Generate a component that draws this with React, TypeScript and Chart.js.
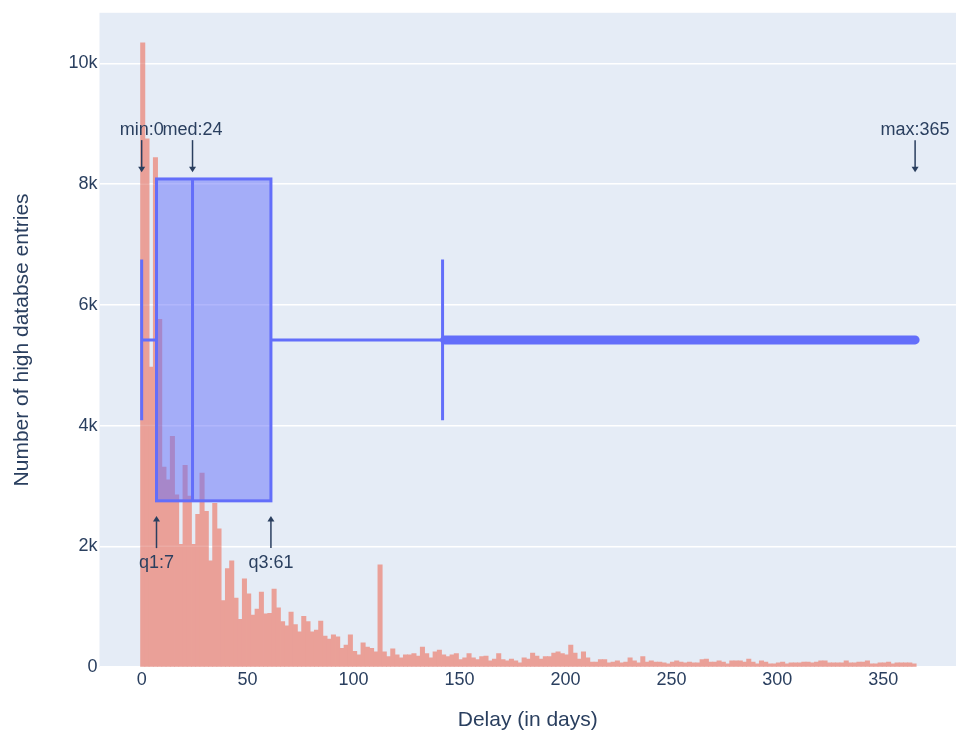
import { useEffect, useRef } from 'react';
import { Chart, registerables } from 'chart.js';

Chart.register(...registerables);

// ---------- data ----------
const BIN_START = -0.5;
const BIN_SIZE = 2;
const HIST_COUNTS = [
  10340, 8750, 4970, 8440, 5760, 3310, 3100, 3820, 2850, 2030,
  3340, 2830, 2030, 2530, 3210, 2580, 1760, 2710, 2290, 1100,
  1630, 1760, 1140, 790, 1460, 1210, 860, 960, 1240, 880,
  890, 1290, 980, 750, 680, 910, 700, 580, 840, 750,
  580, 610, 760, 510, 460, 530, 500, 310, 360, 530,
  260, 200, 400, 330, 310, 250, 1690, 250, 170, 300,
  200, 150, 200, 200, 220, 180, 330, 220, 150, 250,
  280, 200, 170, 200, 220, 120, 150, 220, 150, 120,
  170, 180, 100, 130, 220, 120, 100, 130, 100, 70,
  150, 130, 230, 180, 130, 170, 170, 230, 250, 220,
  200, 360, 230, 130, 250, 150, 80, 80, 120, 120,
  70, 80, 100, 70, 80, 150, 100, 70, 170, 80,
  100, 80, 80, 70, 50, 80, 100, 80, 70, 80,
  70, 70, 120, 130, 80, 80, 100, 80, 50, 100,
  100, 100, 80, 130, 80, 50, 100, 80, 50, 50,
  70, 80, 50, 70, 70, 70, 80, 80, 70, 80,
  100, 100, 70, 70, 70, 70, 100, 70, 70, 80,
  80, 100, 50, 50, 70, 70, 80, 50, 70, 70,
  70, 70, 50,
];

const X_TICKS = [0, 50, 100, 150, 200, 250, 300, 350];
const Y_TICKS = [0, 2000, 4000, 6000, 8000, 10000];
const X_MIN = -19.9;
const X_MAX = 384.3;
const Y_MIN = 0;
const Y_MAX = 10840;

const BOX_MIN = 0;
const BOX_Q1 = 7;
const BOX_MEDIAN = 24;
const BOX_Q3 = 61;
const BOX_UPPER_FENCE = 142;
const BOX_FIRST_OUTLIER = 143;
const BOX_MAX = 365;

const ANNOTATION_NAMES = ['min', 'med', 'max', 'q1', 'q3'];
const ANNOTATION_VALUES = [BOX_MIN, BOX_MEDIAN, BOX_MAX, BOX_Q1, BOX_Q3];
const ANNOTATION_SIDES = ['top', 'top', 'top', 'bottom', 'bottom'];
const ANNOTATION_TOP_Y = 8200;
const ANNOTATION_BOTTOM_Y = 2500;

const X_TITLE = 'Delay (in days)';
const Y_TITLE = 'Number of high databse entries';

// ---------- styles ----------
const FONT = "'Liberation Sans', Arial, sans-serif";
const TEXT_COLOR = '#2a3f5f';
const PLOT_BG = '#E5ECF6';
const BAR_COLOR = 'rgb(234,160,152)';
const GRID_THROUGH_BARS = 'rgba(255,255,255,0.12)';
const BOX_LINE = '#636EFA';
const BOX_FILL = 'rgba(99,110,250,0.5)';
const BOX_POSITION = 0.5;
const BOX_HALF_WIDTH = 0.246;
const WHISKER_HALF_WIDTH = 0.123;

const bgPlugin = {
  id: 'plotBg',
  beforeDraw(chart: any) {
    const { ctx, chartArea } = chart;
    ctx.save();
    ctx.fillStyle = PLOT_BG;
    ctx.fillRect(chartArea.left, chartArea.top, chartArea.right - chartArea.left, chartArea.bottom - chartArea.top);
    ctx.restore();
  },
};

const boxPlugin = {
  id: 'boxOverlay',
  afterDatasetsDraw(chart: any) {
    const { ctx, chartArea } = chart;
    const xs = chart.scales.x;
    const ys = chart.scales.y;
    const yb = chart.scales.yBox;
    const px = (v: number) => xs.getPixelForValue(v);
    const cy = yb.getPixelForValue(BOX_POSITION);
    const top = yb.getPixelForValue(BOX_POSITION + BOX_HALF_WIDTH);
    const bot = yb.getPixelForValue(BOX_POSITION - BOX_HALF_WIDTH);
    const capTop = yb.getPixelForValue(BOX_POSITION + WHISKER_HALF_WIDTH);
    const capBot = yb.getPixelForValue(BOX_POSITION - WHISKER_HALF_WIDTH);

    ctx.save();
    ctx.beginPath();
    ctx.rect(chartArea.left, chartArea.top, chartArea.right - chartArea.left, chartArea.bottom - chartArea.top);
    ctx.clip();

    // gridlines seen through the semi-transparent bars
    ctx.strokeStyle = GRID_THROUGH_BARS;
    ctx.lineWidth = 1.5;
    ctx.beginPath();
    Y_TICKS.forEach((v) => {
      if (v === 0) return;
      const y = ys.getPixelForValue(v);
      ctx.moveTo(chartArea.left, y);
      ctx.lineTo(chartArea.right, y);
    });
    ctx.stroke();

    // outliers (dense points)
    ctx.strokeStyle = BOX_LINE;
    ctx.lineCap = 'round';
    ctx.lineWidth = 9;
    ctx.beginPath();
    ctx.moveTo(px(BOX_FIRST_OUTLIER), cy);
    ctx.lineTo(px(BOX_MAX), cy);
    ctx.stroke();

    ctx.lineCap = 'butt';
    ctx.lineWidth = 3;
    // whiskers
    ctx.beginPath();
    ctx.moveTo(px(BOX_MIN), cy);
    ctx.lineTo(px(BOX_Q1), cy);
    ctx.moveTo(px(BOX_Q3), cy);
    ctx.lineTo(px(BOX_UPPER_FENCE), cy);
    ctx.moveTo(px(BOX_MIN), capTop);
    ctx.lineTo(px(BOX_MIN), capBot);
    ctx.moveTo(px(BOX_UPPER_FENCE), capTop);
    ctx.lineTo(px(BOX_UPPER_FENCE), capBot);
    ctx.stroke();

    // box
    ctx.fillStyle = BOX_FILL;
    ctx.fillRect(px(BOX_Q1), top, px(BOX_Q3) - px(BOX_Q1), bot - top);
    ctx.strokeRect(px(BOX_Q1), top, px(BOX_Q3) - px(BOX_Q1), bot - top);
    // median
    ctx.beginPath();
    ctx.moveTo(px(BOX_MEDIAN), top);
    ctx.lineTo(px(BOX_MEDIAN), bot);
    ctx.stroke();
    ctx.restore();

    // annotations
    ctx.save();
    ctx.font = `18px ${FONT}`;
    ctx.fillStyle = TEXT_COLOR;
    ctx.strokeStyle = TEXT_COLOR;
    ctx.textAlign = 'center';
    ctx.textBaseline = 'alphabetic';
    ctx.lineWidth = 1.5;
    ANNOTATION_NAMES.forEach((name, i) => {
      const v = ANNOTATION_VALUES[i];
      const isTop = ANNOTATION_SIDES[i] === 'top';
      const x = px(v);
      const tip = ys.getPixelForValue(isTop ? ANNOTATION_TOP_Y : ANNOTATION_BOTTOM_Y);
      const dir = isTop ? -1 : 1;
      const tail = tip + dir * 32;
      const headLen = 5;
      ctx.beginPath();
      ctx.moveTo(x, tail);
      ctx.lineTo(x, tip + dir * headLen);
      ctx.stroke();
      ctx.beginPath();
      ctx.moveTo(x, tip);
      ctx.lineTo(x - 3.5, tip + dir * (headLen + 0.5));
      ctx.lineTo(x + 3.5, tip + dir * (headLen + 0.5));
      ctx.closePath();
      ctx.fill();
      const label = `${name}:${v}`;
      if (isTop) ctx.fillText(label, x, tail - 5);
      else ctx.fillText(label, x, tail + 20);
    });
    ctx.restore();
  },
};

export default function App() {
  const canvasRef = useRef<HTMLCanvasElement | null>(null);

  useEffect(() => {
    if (!canvasRef.current) return;
    const data = HIST_COUNTS.map((c, i) => ({ x: BIN_START + BIN_SIZE * i + BIN_SIZE / 2, y: c }));
    const chart = new Chart(canvasRef.current, {
      type: 'bar',
      data: {
        datasets: [
          {
            data,
            backgroundColor: BAR_COLOR,
            borderWidth: 0,
            barPercentage: 1,
            categoryPercentage: 1,
            inflateAmount: 0.4,
          } as any,
        ],
      },
      options: {
        animation: false,
        responsive: false,
        maintainAspectRatio: false,
        layout: { padding: { left: 0, top: 12, right: 4, bottom: 0 } },
        plugins: { legend: { display: false }, tooltip: { enabled: false } },
        scales: {
          x: {
            type: 'linear',
            offset: false,
            min: X_MIN,
            max: X_MAX,
            afterBuildTicks: (s: any) => {
              s.ticks = X_TICKS.map((v) => ({ value: v }));
            },
            afterFit: (s: any) => {
              s.height = 66;
            },
            grid: { display: false, drawTicks: false, offset: false },
            border: { display: false },
            ticks: {
              padding: 2,
              font: { family: FONT, size: 18 },
              color: TEXT_COLOR,
              maxRotation: 0,
              autoSkip: false,
              callback: (v: any) => String(v),
            },
            title: {
              display: true,
              text: X_TITLE,
              font: { family: FONT, size: 21 },
              color: TEXT_COLOR,
              padding: { top: 0, bottom: 0 },
            },
          },
          y: {
            type: 'linear',
            min: Y_MIN,
            max: Y_MAX,
            afterBuildTicks: (s: any) => {
              s.ticks = Y_TICKS.map((v) => ({ value: v }));
            },
            afterFit: (s: any) => {
              s.width = 99.5;
            },
            grid: { color: '#ffffff', lineWidth: 1.5, drawTicks: false },
            border: { display: false },
            ticks: {
              padding: 2,
              font: { family: FONT, size: 18 },
              color: TEXT_COLOR,
              autoSkip: false,
              callback: (v: any) => (v === 0 ? '0' : `${v / 1000}k`),
            },
            title: {
              display: true,
              text: Y_TITLE,
              font: { family: FONT, size: 21 },
              color: TEXT_COLOR,
              padding: { top: 10, bottom: 0 },
            },
          },
          yBox: {
            type: 'linear',
            min: 0,
            max: 1,
            display: false,
            position: 'right',
          },
        },
      } as any,
      plugins: [bgPlugin, boxPlugin],
    });
    return () => chart.destroy();
  }, []);

  return (
    <div style={{ position: 'absolute', left: 0, top: 0, width: 960, height: 733, background: '#fff' }}>
      <canvas ref={canvasRef} width={960} height={733} style={{ width: 960, height: 733 }} />
    </div>
  );
}
